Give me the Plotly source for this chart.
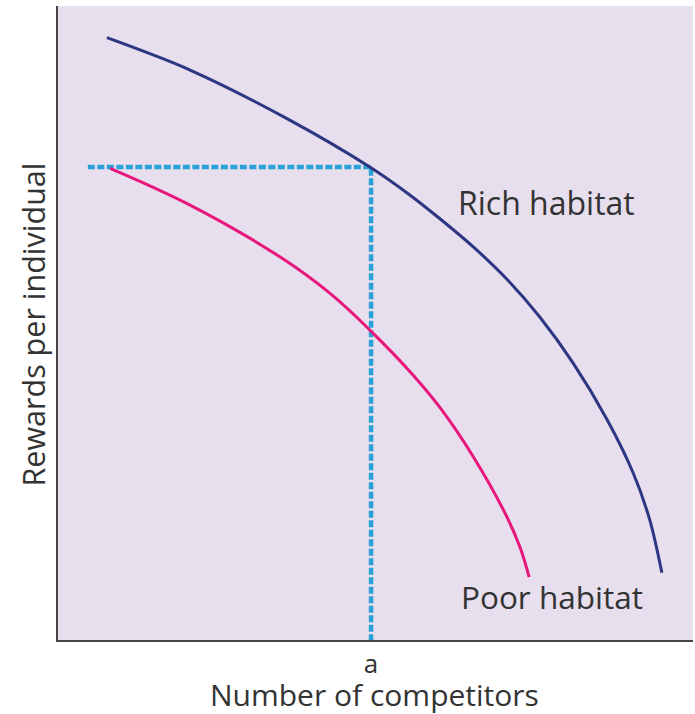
import plotly.graph_objects as go

# Curves (abstract units, 0-10 on both axes)
rich_x = [0.77, 2.08, 3.65, 4.91, 5.54, 6.02, 6.54, 7.07, 7.59, 8.11, 8.65, 9.06, 9.32, 9.51]
rich_y = [9.50, 8.99, 8.20, 7.46, 7.02, 6.64, 6.20, 5.69, 5.09, 4.37, 3.47, 2.63, 1.89, 1.06]

poor_x = [0.82, 2.08, 3.50, 4.28, 4.94, 5.59, 6.02, 6.54, 7.07, 7.28, 7.42]
poor_y = [7.44, 6.86, 6.04, 5.47, 4.86, 4.18, 3.66, 2.89, 1.94, 1.45, 0.99]

# Guide (competitor level a and reward level)
guide_x = [0.47, 4.93, 4.93]
guide_y = [7.46, 7.46, 0.0]

tick_vals = [4.93]
tick_text = ["a"]

FONT = "Open Sans, Noto Sans, sans-serif"
TXT = "#333333"

fig = go.Figure()
fig.add_trace(go.Scatter(x=guide_x, y=guide_y, mode="lines",
                         line=dict(color="#2aa2d8", width=4.5, dash="7px,2.5px"),
                         hoverinfo="skip"))
fig.add_trace(go.Scatter(x=rich_x, y=rich_y, mode="lines",
                         line=dict(color="#2d3682", width=3, shape="spline", smoothing=0.9)))
fig.add_trace(go.Scatter(x=poor_x, y=poor_y, mode="lines",
                         line=dict(color="#e8177c", width=3, shape="spline", smoothing=1.1)))

fig.add_annotation(x=7.7, y=6.90, text="Rich habitat", showarrow=False,
                   font=dict(family=FONT, size=32, color=TXT))
fig.add_annotation(x=7.78, y=0.69, text="Poor habitat", showarrow=False,
                   font=dict(family=FONT, size=31.5, color=TXT))

# Axis titles placed as annotations relative to the plot area
fig.add_annotation(xref="paper", yref="paper", x=0.499, y=-0.0855,
                   text="Number of competitors", showarrow=False,
                   xanchor="center", yanchor="middle",
                   font=dict(family=FONT, size=30, color=TXT))
fig.add_annotation(xref="paper", yref="paper", x=-0.039, y=0.498,
                   text="Rewards per individual", showarrow=False, textangle=-90,
                   xanchor="center", yanchor="middle",
                   font=dict(family=FONT, size=30.5, color=TXT))

fig.update_layout(
    width=695, height=714,
    margin=dict(l=58, r=2, t=6, b=74, autoexpand=False),
    paper_bgcolor="white",
    plot_bgcolor="#e7deee",
    showlegend=False,
    font=dict(family=FONT, color=TXT),
)
fig.update_xaxes(range=[0, 10], tickvals=tick_vals, ticktext=tick_text,
                 ticks="", showgrid=False, zeroline=False, automargin=False,
                 showline=True, linecolor="#444444", linewidth=2,
                 tickfont=dict(size=26, color=TXT))
fig.update_yaxes(range=[0, 10], showticklabels=False, ticks="",
                 showgrid=False, zeroline=False, automargin=False,
                 showline=True, linecolor="#444444", linewidth=2)

fig.write_html("out.html", config={"displayModeBar": False},
               post_script="document.body.style.margin='0';document.body.style.overflow='hidden';")
